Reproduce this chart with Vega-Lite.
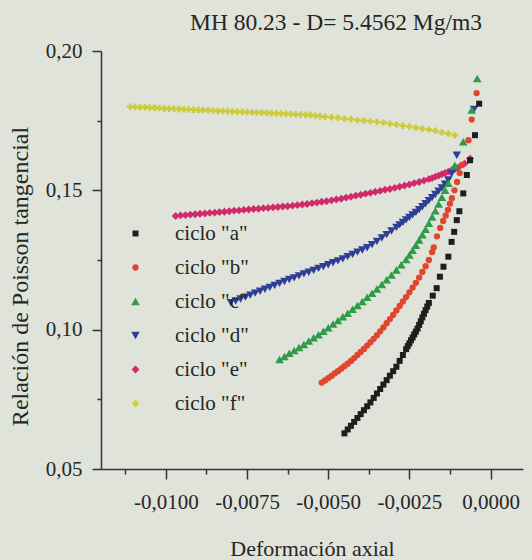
{
  "$schema": "https://vega.github.io/schema/vega-lite/v6.json",
  "width": 422,
  "height": 418,
  "autosize": "none",
  "padding": {"left": 101, "top": 51, "right": 9, "bottom": 91},
  "background": "#dfe3d9",
  "view": {"stroke": null},
  "title": {"text": "MH 80.23 - D= 5.4562 Mg/m3", "font": "Liberation Serif", "fontSize": 23.5, "fontWeight": "normal", "color": "#262626", "anchor": "middle", "dx": 24, "offset": 6},
  "data": {"values": [
    {"s":"f","x":-0.0111,"y":0.1800},{"s":"f","x":-0.01095,"y":0.1799},{"s":"f","x":-0.0108,"y":0.1798},{"s":"f","x":-0.01065,"y":0.1798},{"s":"f","x":-0.0105,"y":0.1797},{"s":"f","x":-0.01035,"y":0.1796},{"s":"f","x":-0.0102,"y":0.1795},{"s":"f","x":-0.01005,"y":0.1794},{"s":"f","x":-0.0099,"y":0.1793},{"s":"f","x":-0.00975,"y":0.1793},{"s":"f","x":-0.0096,"y":0.1792},{"s":"f","x":-0.00945,"y":0.1791},{"s":"f","x":-0.0093,"y":0.1790},{"s":"f","x":-0.00915,"y":0.1789},{"s":"f","x":-0.009,"y":0.1788},{"s":"f","x":-0.00885,"y":0.1788},{"s":"f","x":-0.0087,"y":0.1787},{"s":"f","x":-0.00855,"y":0.1786},{"s":"f","x":-0.0084,"y":0.1785},{"s":"f","x":-0.00825,"y":0.1785},{"s":"f","x":-0.0081,"y":0.1784},{"s":"f","x":-0.00795,"y":0.1783},{"s":"f","x":-0.0078,"y":0.1782},{"s":"f","x":-0.00765,"y":0.1782},{"s":"f","x":-0.0075,"y":0.1781},{"s":"f","x":-0.00735,"y":0.1780},{"s":"f","x":-0.0072,"y":0.1779},{"s":"f","x":-0.00705,"y":0.1779},{"s":"f","x":-0.0069,"y":0.1778},{"s":"f","x":-0.00675,"y":0.1777},{"s":"f","x":-0.0066,"y":0.1776},{"s":"f","x":-0.00645,"y":0.1776},{"s":"f","x":-0.0063,"y":0.1775},{"s":"f","x":-0.00615,"y":0.1774},{"s":"f","x":-0.006,"y":0.1773},{"s":"f","x":-0.00585,"y":0.1772},{"s":"f","x":-0.0057,"y":0.1771},{"s":"f","x":-0.00555,"y":0.1770},{"s":"f","x":-0.0054,"y":0.1768},{"s":"f","x":-0.00525,"y":0.1766},{"s":"f","x":-0.0051,"y":0.1764},{"s":"f","x":-0.0049,"y":0.1762},{"s":"f","x":-0.0047,"y":0.1760},{"s":"f","x":-0.0045,"y":0.1757},{"s":"f","x":-0.0043,"y":0.1755},{"s":"f","x":-0.0041,"y":0.1752},{"s":"f","x":-0.0039,"y":0.1750},{"s":"f","x":-0.0037,"y":0.1748},{"s":"f","x":-0.0035,"y":0.1745},{"s":"f","x":-0.0033,"y":0.1743},{"s":"f","x":-0.0031,"y":0.1739},{"s":"f","x":-0.0029,"y":0.1736},{"s":"f","x":-0.0027,"y":0.1732},{"s":"f","x":-0.0025,"y":0.1729},{"s":"f","x":-0.0023,"y":0.1725},{"s":"f","x":-0.0021,"y":0.1721},{"s":"f","x":-0.0019,"y":0.1718},{"s":"f","x":-0.0017,"y":0.1714},{"s":"f","x":-0.0015,"y":0.1708},{"s":"f","x":-0.0013,"y":0.1703},{"s":"f","x":-0.0011,"y":0.1698},
    {"s":"e","x":-0.0097,"y":0.1408},{"s":"e","x":-0.00955,"y":0.1410},{"s":"e","x":-0.0094,"y":0.1411},{"s":"e","x":-0.00925,"y":0.1413},{"s":"e","x":-0.0091,"y":0.1414},{"s":"e","x":-0.00895,"y":0.1416},{"s":"e","x":-0.0088,"y":0.1417},{"s":"e","x":-0.00865,"y":0.1419},{"s":"e","x":-0.0085,"y":0.1420},{"s":"e","x":-0.00835,"y":0.1422},{"s":"e","x":-0.0082,"y":0.1423},{"s":"e","x":-0.00805,"y":0.1425},{"s":"e","x":-0.0079,"y":0.1427},{"s":"e","x":-0.00775,"y":0.1428},{"s":"e","x":-0.0076,"y":0.1430},{"s":"e","x":-0.00745,"y":0.1431},{"s":"e","x":-0.0073,"y":0.1433},{"s":"e","x":-0.00715,"y":0.1434},{"s":"e","x":-0.007,"y":0.1436},{"s":"e","x":-0.00685,"y":0.1437},{"s":"e","x":-0.0067,"y":0.1439},{"s":"e","x":-0.00655,"y":0.1440},{"s":"e","x":-0.0064,"y":0.1442},{"s":"e","x":-0.00625,"y":0.1443},{"s":"e","x":-0.0061,"y":0.1445},{"s":"e","x":-0.00595,"y":0.1447},{"s":"e","x":-0.0058,"y":0.1449},{"s":"e","x":-0.00565,"y":0.1451},{"s":"e","x":-0.0055,"y":0.1454},{"s":"e","x":-0.00535,"y":0.1456},{"s":"e","x":-0.0052,"y":0.1459},{"s":"e","x":-0.00505,"y":0.1461},{"s":"e","x":-0.0049,"y":0.1464},{"s":"e","x":-0.00475,"y":0.1467},{"s":"e","x":-0.0046,"y":0.1470},{"s":"e","x":-0.00445,"y":0.1474},{"s":"e","x":-0.0043,"y":0.1477},{"s":"e","x":-0.00415,"y":0.1481},{"s":"e","x":-0.004,"y":0.1484},{"s":"e","x":-0.00385,"y":0.1488},{"s":"e","x":-0.0037,"y":0.1491},{"s":"e","x":-0.00355,"y":0.1495},{"s":"e","x":-0.0034,"y":0.1498},{"s":"e","x":-0.00325,"y":0.1502},{"s":"e","x":-0.0031,"y":0.1505},{"s":"e","x":-0.00295,"y":0.1509},{"s":"e","x":-0.0028,"y":0.1513},{"s":"e","x":-0.00265,"y":0.1517},{"s":"e","x":-0.0025,"y":0.1521},{"s":"e","x":-0.00235,"y":0.1526},{"s":"e","x":-0.0022,"y":0.1530},{"s":"e","x":-0.00205,"y":0.1535},{"s":"e","x":-0.0019,"y":0.1540},{"s":"e","x":-0.0018,"y":0.1544},{"s":"e","x":-0.0017,"y":0.1549},{"s":"e","x":-0.0016,"y":0.1553},{"s":"e","x":-0.0015,"y":0.1558},{"s":"e","x":-0.0014,"y":0.1562},{"s":"e","x":-0.0013,"y":0.1567},{"s":"e","x":-0.0012,"y":0.1572},{"s":"e","x":-0.0011,"y":0.1576},{"s":"e","x":-0.001,"y":0.1581},{"s":"e","x":-0.0008,"y":0.1596},{"s":"e","x":-0.00063,"y":0.1614},
    {"s":"d","x":-0.008,"y":0.1097},{"s":"d","x":-0.00785,"y":0.1103},{"s":"d","x":-0.0077,"y":0.1110},{"s":"d","x":-0.00755,"y":0.1117},{"s":"d","x":-0.0074,"y":0.1124},{"s":"d","x":-0.00725,"y":0.1131},{"s":"d","x":-0.0071,"y":0.1138},{"s":"d","x":-0.00695,"y":0.1145},{"s":"d","x":-0.0068,"y":0.1152},{"s":"d","x":-0.00665,"y":0.1159},{"s":"d","x":-0.0065,"y":0.1166},{"s":"d","x":-0.00635,"y":0.1173},{"s":"d","x":-0.0062,"y":0.1180},{"s":"d","x":-0.00605,"y":0.1186},{"s":"d","x":-0.0059,"y":0.1193},{"s":"d","x":-0.00575,"y":0.1200},{"s":"d","x":-0.0056,"y":0.1206},{"s":"d","x":-0.00545,"y":0.1213},{"s":"d","x":-0.0053,"y":0.1220},{"s":"d","x":-0.00515,"y":0.1226},{"s":"d","x":-0.005,"y":0.1233},{"s":"d","x":-0.00485,"y":0.1240},{"s":"d","x":-0.0047,"y":0.1247},{"s":"d","x":-0.00455,"y":0.1254},{"s":"d","x":-0.0044,"y":0.1262},{"s":"d","x":-0.00425,"y":0.1270},{"s":"d","x":-0.0041,"y":0.1278},{"s":"d","x":-0.00395,"y":0.1286},{"s":"d","x":-0.0038,"y":0.1294},{"s":"d","x":-0.00365,"y":0.1305},{"s":"d","x":-0.0035,"y":0.1317},{"s":"d","x":-0.00335,"y":0.1329},{"s":"d","x":-0.0032,"y":0.1341},{"s":"d","x":-0.00305,"y":0.1354},{"s":"d","x":-0.0029,"y":0.1367},{"s":"d","x":-0.0028,"y":0.1376},{"s":"d","x":-0.0027,"y":0.1385},{"s":"d","x":-0.0026,"y":0.1394},{"s":"d","x":-0.0025,"y":0.1403},{"s":"d","x":-0.0024,"y":0.1412},{"s":"d","x":-0.0023,"y":0.1421},{"s":"d","x":-0.0022,"y":0.1431},{"s":"d","x":-0.0021,"y":0.1441},{"s":"d","x":-0.002,"y":0.1452},{"s":"d","x":-0.0019,"y":0.1463},{"s":"d","x":-0.0018,"y":0.1474},{"s":"d","x":-0.0017,"y":0.1485},{"s":"d","x":-0.0016,"y":0.1497},{"s":"d","x":-0.0015,"y":0.1509},{"s":"d","x":-0.0014,"y":0.1522},{"s":"d","x":-0.0013,"y":0.1537},{"s":"d","x":-0.0012,"y":0.1560},{"s":"d","x":-0.00104,"y":0.1626},{"s":"d","x":-0.00051,"y":0.1790},
    {"s":"c","x":-0.0065,"y":0.0893},{"s":"c","x":-0.00635,"y":0.0904},{"s":"c","x":-0.0062,"y":0.0915},{"s":"c","x":-0.00605,"y":0.0925},{"s":"c","x":-0.0059,"y":0.0936},{"s":"c","x":-0.00575,"y":0.0947},{"s":"c","x":-0.0056,"y":0.0959},{"s":"c","x":-0.00545,"y":0.0971},{"s":"c","x":-0.0053,"y":0.0982},{"s":"c","x":-0.00515,"y":0.0994},{"s":"c","x":-0.005,"y":0.1007},{"s":"c","x":-0.00485,"y":0.1020},{"s":"c","x":-0.0047,"y":0.1033},{"s":"c","x":-0.00455,"y":0.1046},{"s":"c","x":-0.0044,"y":0.1059},{"s":"c","x":-0.00425,"y":0.1073},{"s":"c","x":-0.0041,"y":0.1087},{"s":"c","x":-0.00395,"y":0.1101},{"s":"c","x":-0.0038,"y":0.1116},{"s":"c","x":-0.00365,"y":0.1131},{"s":"c","x":-0.0035,"y":0.1146},{"s":"c","x":-0.00335,"y":0.1162},{"s":"c","x":-0.0032,"y":0.1179},{"s":"c","x":-0.00305,"y":0.1196},{"s":"c","x":-0.0029,"y":0.1214},{"s":"c","x":-0.00275,"y":0.1233},{"s":"c","x":-0.0026,"y":0.1252},{"s":"c","x":-0.0025,"y":0.1268},{"s":"c","x":-0.0024,"y":0.1285},{"s":"c","x":-0.0023,"y":0.1303},{"s":"c","x":-0.0022,"y":0.1322},{"s":"c","x":-0.0021,"y":0.1341},{"s":"c","x":-0.002,"y":0.1360},{"s":"c","x":-0.0019,"y":0.1382},{"s":"c","x":-0.0018,"y":0.1404},{"s":"c","x":-0.0017,"y":0.1427},{"s":"c","x":-0.0016,"y":0.1451},{"s":"c","x":-0.0015,"y":0.1475},{"s":"c","x":-0.0014,"y":0.1500},{"s":"c","x":-0.0013,"y":0.1525},{"s":"c","x":-0.0011,"y":0.1590},{"s":"c","x":-0.00084,"y":0.1674},{"s":"c","x":-0.00058,"y":0.1788},{"s":"c","x":-0.00041,"y":0.1901},
    {"s":"b","x":-0.0052,"y":0.0810},{"s":"b","x":-0.0051,"y":0.0818},{"s":"b","x":-0.005,"y":0.0826},{"s":"b","x":-0.0049,"y":0.0834},{"s":"b","x":-0.0048,"y":0.0843},{"s":"b","x":-0.0047,"y":0.0851},{"s":"b","x":-0.0046,"y":0.0860},{"s":"b","x":-0.0045,"y":0.0869},{"s":"b","x":-0.0044,"y":0.0878},{"s":"b","x":-0.0043,"y":0.0888},{"s":"b","x":-0.0042,"y":0.0898},{"s":"b","x":-0.0041,"y":0.0909},{"s":"b","x":-0.004,"y":0.0920},{"s":"b","x":-0.0039,"y":0.0931},{"s":"b","x":-0.0038,"y":0.0943},{"s":"b","x":-0.0037,"y":0.0955},{"s":"b","x":-0.0036,"y":0.0967},{"s":"b","x":-0.0035,"y":0.0980},{"s":"b","x":-0.0034,"y":0.0994},{"s":"b","x":-0.0033,"y":0.1008},{"s":"b","x":-0.0032,"y":0.1023},{"s":"b","x":-0.0031,"y":0.1038},{"s":"b","x":-0.003,"y":0.1053},{"s":"b","x":-0.0029,"y":0.1069},{"s":"b","x":-0.0028,"y":0.1085},{"s":"b","x":-0.0027,"y":0.1101},{"s":"b","x":-0.0026,"y":0.1117},{"s":"b","x":-0.0025,"y":0.1134},{"s":"b","x":-0.0024,"y":0.1151},{"s":"b","x":-0.0023,"y":0.1168},{"s":"b","x":-0.0022,"y":0.1187},{"s":"b","x":-0.0021,"y":0.1207},{"s":"b","x":-0.002,"y":0.1228},{"s":"b","x":-0.0019,"y":0.1250},{"s":"b","x":-0.0018,"y":0.1278},{"s":"b","x":-0.00175,"y":0.1295},{"s":"b","x":-0.00165,"y":0.1335},{"s":"b","x":-0.00155,"y":0.1365},{"s":"b","x":-0.00146,"y":0.1390},{"s":"b","x":-0.00138,"y":0.1410},{"s":"b","x":-0.00131,"y":0.1430},{"s":"b","x":-0.00125,"y":0.1452},{"s":"b","x":-0.00119,"y":0.1472},{"s":"b","x":-0.00111,"y":0.1500},{"s":"b","x":-0.00103,"y":0.1530},{"s":"b","x":-0.00095,"y":0.1562},{"s":"b","x":-0.00088,"y":0.1591},{"s":"b","x":-0.00068,"y":0.1680},{"s":"b","x":-0.00058,"y":0.1754},{"s":"b","x":-0.00043,"y":0.1849},
    {"s":"a","x":-0.0045,"y":0.0628},{"s":"a","x":-0.0044,"y":0.0642},{"s":"a","x":-0.0043,"y":0.0655},{"s":"a","x":-0.0042,"y":0.0669},{"s":"a","x":-0.0041,"y":0.0683},{"s":"a","x":-0.004,"y":0.0697},{"s":"a","x":-0.0039,"y":0.0711},{"s":"a","x":-0.0038,"y":0.0725},{"s":"a","x":-0.0037,"y":0.0739},{"s":"a","x":-0.0036,"y":0.0755},{"s":"a","x":-0.0035,"y":0.0771},{"s":"a","x":-0.0034,"y":0.0787},{"s":"a","x":-0.0033,"y":0.0803},{"s":"a","x":-0.0032,"y":0.0819},{"s":"a","x":-0.0031,"y":0.0835},{"s":"a","x":-0.003,"y":0.0851},{"s":"a","x":-0.0029,"y":0.0867},{"s":"a","x":-0.0028,"y":0.0888},{"s":"a","x":-0.0027,"y":0.0909},{"s":"a","x":-0.0026,"y":0.0930},{"s":"a","x":-0.00255,"y":0.0941},{"s":"a","x":-0.0025,"y":0.0951},{"s":"a","x":-0.00245,"y":0.0962},{"s":"a","x":-0.0024,"y":0.0972},{"s":"a","x":-0.00235,"y":0.0983},{"s":"a","x":-0.0023,"y":0.0993},{"s":"a","x":-0.00225,"y":0.1004},{"s":"a","x":-0.0022,"y":0.1017},{"s":"a","x":-0.00215,"y":0.1030},{"s":"a","x":-0.0021,"y":0.1044},{"s":"a","x":-0.00205,"y":0.1057},{"s":"a","x":-0.002,"y":0.1070},{"s":"a","x":-0.00195,"y":0.1083},{"s":"a","x":-0.0019,"y":0.1096},{"s":"a","x":-0.00178,"y":0.1122},{"s":"a","x":-0.00166,"y":0.1149},{"s":"a","x":-0.00156,"y":0.1190},{"s":"a","x":-0.00145,"y":0.1226},{"s":"a","x":-0.0013,"y":0.1262},{"s":"a","x":-0.0012,"y":0.1315},{"s":"a","x":-0.00112,"y":0.1351},{"s":"a","x":-0.00104,"y":0.1393},{"s":"a","x":-0.00096,"y":0.1425},{"s":"a","x":-0.00084,"y":0.1489},{"s":"a","x":-0.00073,"y":0.1555},{"s":"a","x":-0.00063,"y":0.1608},{"s":"a","x":-0.00048,"y":0.1698},{"s":"a","x":-0.00035,"y":0.1811}
  ]},
  "mark": {"type": "point", "filled": true, "opacity": 1},
  "encoding": {
    "x": {"field": "x", "type": "quantitative",
      "scale": {"domain": [-0.012, 0.001], "nice": false, "zero": false},
      "axis": {"title": "Deformación axial",
        "values": [-0.01125, -0.01, -0.00875, -0.0075, -0.00625, -0.005, -0.00375, -0.0025, -0.00125, 0],
        "labelExpr": "abs(datum.value*400 - round(datum.value*400)) < 0.001 ? replace(replace(format(datum.value, '.4f'), '.', ','), '\u2212', '-') : ''",
        "tickSize": {"condition": {"test": "abs(datum.value*400 - round(datum.value*400)) < 0.001", "value": 10}, "value": 5},
        "labelPadding": 12, "titleY": 86, "titleBaseline": "alphabetic", "titlePadding": 0}},
    "y": {"field": "y", "type": "quantitative",
      "scale": {"domain": [0.05, 0.2], "nice": false, "zero": false},
      "axis": {"title": "Relación de Poisson tangencial",
        "values": [0.05, 0.075, 0.1, 0.125, 0.15, 0.175, 0.2],
        "labelExpr": "abs(datum.value*20 - round(datum.value*20)) < 0.001 ? replace(format(datum.value, '.2f'), '.', ',') : ''",
        "tickSize": {"condition": {"test": "abs(datum.value*20 - round(datum.value*20)) < 0.001", "value": 9}, "value": 4},
        "labelPadding": 10, "titleX": -81, "titleY": 225, "titleAngle": -90, "titleAlign": "center", "titleBaseline": "middle", "titleFontSize": 24}},
    "color": {"field": "s", "type": "nominal",
      "scale": {"domain": ["a", "b", "c", "d", "e", "f"], "range": ["#1e1e1e", "#e0462e", "#2f9a48", "#2e3d96", "#d02a6a", "#cccc38"]},
      "legend": {"title": null, "orient": "none", "legendX": 24, "legendY": 172, "symbolSize": 36, "labelExpr": "'ciclo \"' + datum.label + '\"'", "labelFont": "Liberation Serif", "labelFontSize": 21, "labelColor": "#262626", "labelOffset": 29, "rowPadding": 12}},
    "shape": {"field": "s", "type": "nominal",
      "scale": {"domain": ["a", "b", "c", "d", "e", "f"], "range": ["square", "circle", "triangle-up", "triangle-down", "diamond", "cross"]}},
    "size": {"field": "s", "type": "nominal", "legend": null,
      "scale": {"type": "ordinal", "domain": ["a", "b", "c", "d", "e", "f"], "range": [36, 40, 75, 72, 62, 42]}}
  },
  "config": {
    "font": "Liberation Serif",
    "axis": {"labelFont": "Liberation Serif", "labelFontSize": 21, "labelColor": "#262626", "titleFont": "Liberation Serif", "titleFontSize": 22, "titleFontWeight": "normal", "titleColor": "#262626", "domainColor": "#333333", "domainWidth": 1.5, "tickColor": "#333333", "tickWidth": 1.5, "grid": false, "labelFlush": false, "labelOverlap": false}
  }
}
